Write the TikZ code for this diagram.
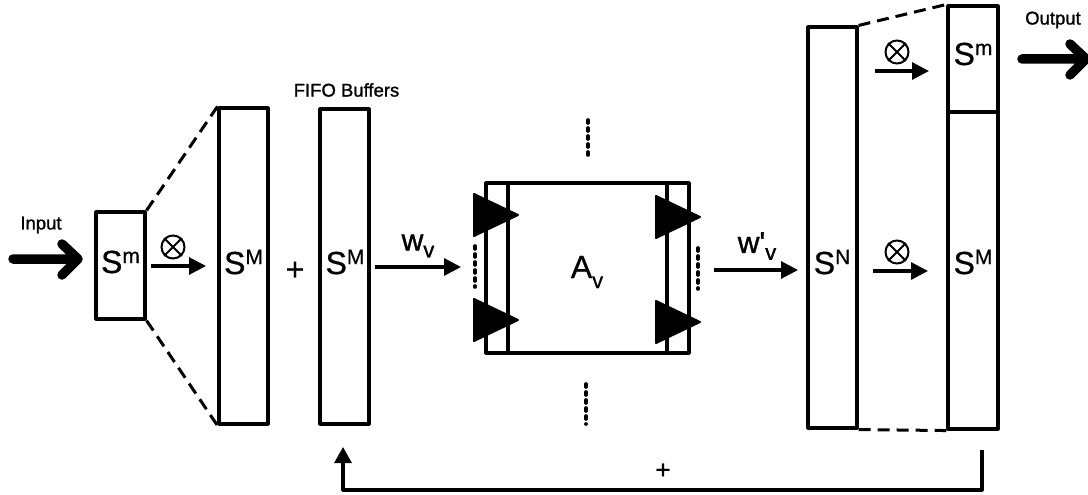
\documentclass[tikz,border=0pt]{standalone}
\usepackage{fontspec}
\setmainfont[FakeBold=0.6]{Liberation Sans}
\newfontfamily\heavy[FakeBold=1.2]{Liberation Sans}
\usetikzlibrary{arrows.meta}
\newcommand{\symS}[1]{{\fontsize{32}{32}\selectfont\mdseries S\raisebox{10pt}{\fontsize{21}{21}\selectfont #1}}}
\tikzset{
  box/.style={draw=black,line width=3.1pt,fill=white,inner sep=0pt,line join=round},
  lbl/.style={inner sep=0pt,font=\fontsize{32}{32}\selectfont},
  small/.style={inner sep=0pt,font=\heavy\fontsize{18.5}{18.5}\selectfont},
  otim/.style={circle,draw=black,line width=2pt,minimum size=23pt,inner sep=0pt},
  thin arrow/.style={line width=3.1pt,-{Triangle[length=17pt,width=17pt]}},
  fat arrow/.style={line width=9.5pt,line cap=round,line join=round},
  dash line/.style={line width=3pt,dash pattern=on 12pt off 7pt},
  dots/.style={line width=3.6pt,dash pattern=on 3pt off 5pt,line cap=round},
  tri/.style={fill=black,draw=black,line width=2pt,line join=round}
}
\begin{document}
\begin{tikzpicture}[x=1pt,y=-1pt]
\useasboundingbox (0,0) rectangle (1088,495);
\fill[white] (0,0) rectangle (1088,495);
% rectangles
\node[box,minimum width=49pt,minimum height=107pt] (sm) at (120.5,265.5) {};
\node[box,minimum width=49pt,minimum height=316pt] (big1) at (243.5,266) {};
\node[box,minimum width=49pt,minimum height=315pt] (fifo) at (344.5,266.5) {};
\node[box,minimum width=49pt,minimum height=401pt] (sn) at (832.5,227.5) {};
\node[box,minimum width=50pt,minimum height=106pt] (top) at (973,59) {};
\node[box,minimum width=50pt,minimum height=317pt] (bot) at (973,270.5) {};
% av block
\node[box,minimum width=203pt,minimum height=170pt] (av) at (587.5,268) {};
\draw[line width=3.1pt] (508,183) -- (508,353) (667,183) -- (667,353);
% triangles
\coordinate (t1) at (474,215);
\coordinate (t2) at (474,320);
\coordinate (t3) at (656,217);
\coordinate (t4) at (656,322);
\foreach \t in {t1,t2,t3,t4}
  \draw[tri] ([yshift=-21pt]\t) -- ([xshift=44pt]\t) -- ([yshift=21pt]\t) -- cycle;
% dots
\coordinate (d1a) at (475,246); \coordinate (d1b) at (475,287);
\coordinate (d2a) at (698,248); \coordinate (d2b) at (698,289);
\coordinate (d3a) at (588,120); \coordinate (d3b) at (588,159);
\coordinate (d4a) at (586,384); \coordinate (d4b) at (586,424);
\draw[dots] (d1a) -- (d1b);
\draw[dots] (d2a) -- (d2b);
\draw[dots] (d3a) -- (d3b);
\draw[dots] (d4a) -- (d4b);
% dashed connectors
\draw[dash line] (sm.north east) -- (big1.north west);
\draw[dash line] (sm.south east) -- (big1.south west);
\draw[dash line] (sn.north east) -- (top.north west);
\draw[dash line] (sn.south east) -- (bot.south west);
% labels
\node[lbl] (l1) at (120.5,262) {\symS{m}};
\node[lbl] (l2) at (243.5,262) {\symS{M}};
\node[lbl] (l3) at (345,262) {\symS{M}};
\node[lbl] (l4) at (832,262) {\symS{N}};
\node[lbl] (l5) at (973,54) {\symS{m}};
\node[lbl] (l6) at (973,262) {\symS{M}};
\node[lbl] (plus1) at (295,271) {+};
\node[lbl,font=\heavy\fontsize{26}{26}\selectfont] (plus2) at (663,471) {+};
\node[lbl] (avl) at (587,272) {A\raisebox{-10pt}{\fontsize{22}{22}\selectfont v}};
\node[small] (inp) at (41,225) {Input};
\node[small] (outp) at (1053,20) {Output};
\node[small] (ff) at (346.5,90) {FIFO Buffers};
% otimes
\foreach \n/\p in {o1/{173,247},o2/{897,52},o3/{897,252}} {
  \node[otim] (\n) at (\p) {};
  \draw[line width=2pt] (\n.north west) -- (\n.south east) (\n.north east) -- (\n.south west);
}
% arrows
\coordinate (a1) at (151,266); \coordinate (a2) at (206,266);
\draw[thin arrow] (a1) -- (a2);
\coordinate (a3) at (375,267); \coordinate (a4) at (461,267);
\draw[thin arrow] (a3) -- (a4);
\coordinate (a5) at (714,270); \coordinate (a6) at (798,270);
\draw[thin arrow] (a5) -- (a6);
\coordinate (a7) at (875,71); \coordinate (a8) at (929,71);
\draw[thin arrow] (a7) -- (a8);
\coordinate (a9) at (873,271); \coordinate (a10) at (928,271);
\draw[thin arrow] (a9) -- (a10);
\node[lbl,font=\heavy\fontsize{30}{30}\selectfont] (wv) at (418,246) {w\raisebox{-7pt}{\fontsize{22}{22}\selectfont v}};
\node[lbl,font=\heavy\fontsize{30}{30}\selectfont] (wpv) at (757,246) {w'\raisebox{-7pt}{\fontsize{22}{22}\selectfont v}};
% fat arrows
\coordinate (f1) at (13,259); \coordinate (f2) at (78,259);
\coordinate (f1u) at (62,244); \coordinate (f1d) at (62,275);
\draw[fat arrow] (f1) -- (f2) (f1u) -- (f2) -- (f1d);
\coordinate (f3) at (1022,59); \coordinate (f4) at (1086,59);
\coordinate (f3u) at (1070,44); \coordinate (f3d) at (1070,75);
\draw[fat arrow] (f3) -- (f4) (f3u) -- (f4) -- (f3d);
% feedback
\coordinate (fbs) at (982,450);
\coordinate (fbm) at (343,490);
\coordinate (fbe) at (343,447);
\draw[line width=3.1pt,line join=round,-{Triangle[length=16pt,width=17pt]}] (fbs) |- (fbm) -- (fbe);
\end{tikzpicture}
\end{document}
